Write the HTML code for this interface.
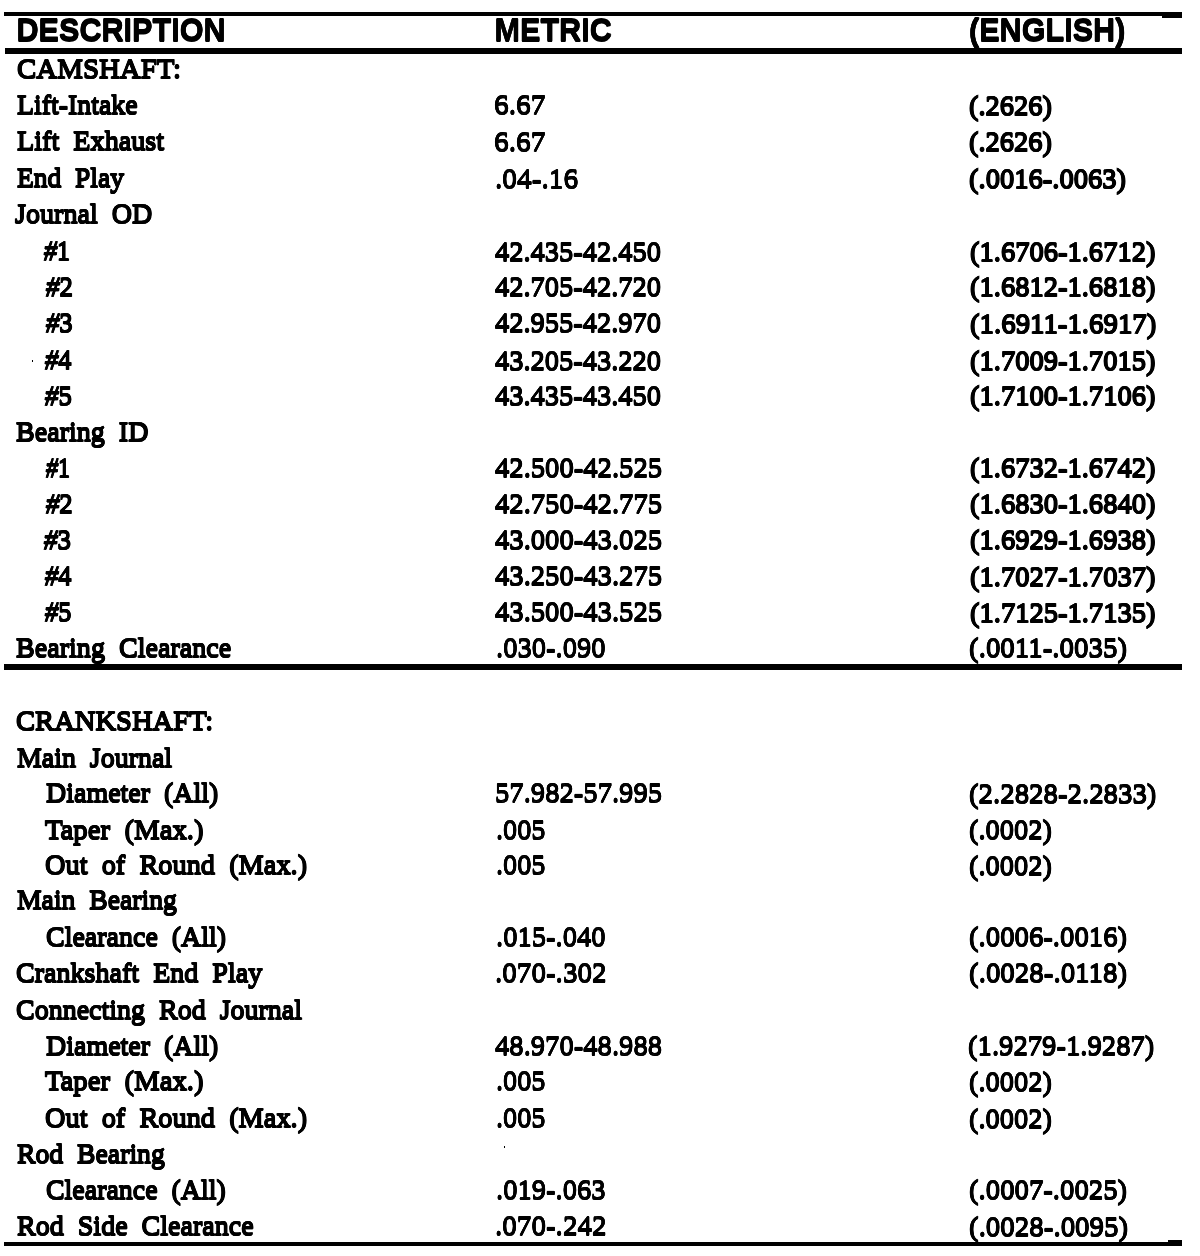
<!DOCTYPE html>
<html lang="en"><head><meta charset="utf-8"><title>Engine Specifications</title>
<style>
html,body{margin:0;padding:0;background:#fff;}
body{width:1200px;height:1256px;position:relative;overflow:hidden;color:#000;
 font-family:"Liberation Serif",serif;font-size:28.3px;line-height:36px;}
.r{position:absolute;left:0;width:1200px;height:36px;white-space:pre;word-spacing:7px;
 -webkit-text-stroke:1.4px #000;text-shadow:0 1.3px 0 #000,0 -1.3px 0 #000,0 0.65px 0 #000,0 -0.65px 0 #000;}
.r span{position:absolute;top:0;transform-origin:0 28.3px;}
.n{-webkit-text-stroke-width:1.1px;}
.e{-webkit-text-stroke-width:1.5px;}
.n.l{-webkit-text-stroke-width:0.7px;}
.e.l{-webkit-text-stroke-width:1.0px;}
.h{position:absolute;left:0;top:12.2px;width:1200px;height:36px;white-space:pre;
 font-family:"Liberation Sans",sans-serif;font-weight:bold;font-size:30.6px;-webkit-text-stroke:0.6px #000;text-shadow:0 1px 0 #000,0 -1px 0 #000;}
.h span{position:absolute;top:0;transform:scale(1,1.045);transform-origin:0 28px;}
.rule{position:absolute;background:#000;}
.sq{-webkit-text-stroke-width:1.4px;}
</style></head><body>
<div class="rule" style="left:4px;top:12px;width:1178px;height:4px"></div>
<div class="h"><span style="left:16.5px">DESCRIPTION</span><span style="left:494.5px">METRIC</span><span style="left:969px">(ENGLISH)</span></div>
<div class="rule" style="left:5px;top:48px;width:1177px;height:6px"></div>
<div class="r sq" style="top:50.70px"><span style="left:17.00px;transform:scale(1.0221,1)">CAMSHAFT:</span></div>
<div class="r" style="top:87.20px"><span style="left:17.00px;transform:scale(0.9836,1)">Lift-Intake</span><span class="n l" style="top:0.3px;left:493.96px;transform:scale(1.0417,1)">6.67</span><span class="e" style="top:0.7px;left:969.00px;transform:scale(1.0063,1)">(.2626)</span></div>
<div class="r" style="top:123.40px"><span style="left:17.00px;transform:scale(0.9966,1)">Lift Exhaust</span><span class="n l" style="top:0.3px;left:493.96px;transform:scale(1.0417,1)">6.67</span><span class="e" style="top:0.7px;left:969.00px;transform:scale(1.0063,1)">(.2626)</span></div>
<div class="r" style="top:160.30px"><span style="left:17.00px;transform:scale(0.9730,1)">End Play</span><span class="n l" style="top:0.3px;left:494.94px;transform:scale(1.0381,1)">.04-.16</span><span class="e" style="top:0.7px;left:969.00px;transform:scale(1.0097,1)">(.0016-.0063)</span></div>
<div class="r" style="top:196.40px"><span style="left:15.00px;transform:scale(0.9928,1)">Journal OD</span></div>
<div class="r" style="top:233.30px"><span style="left:44.11px;transform:scale(0.9159,1)"><i>#</i>1</span><span class="n" style="top:0.3px;left:495.00px;transform:scale(1.0061,1)">42.435-42.450</span><span class="e" style="top:0.7px;left:969.99px;transform:scale(1.0083,1)">(1.6706-1.6712)</span></div>
<div class="r" style="top:268.70px"><span style="left:45.94px;transform:scale(0.9474,1)"><i>#</i>2</span><span class="n" style="top:0.3px;left:495.00px;transform:scale(1.0061,1)">42.705-42.720</span><span class="e" style="top:0.7px;left:969.99px;transform:scale(1.0083,1)">(1.6812-1.6818)</span></div>
<div class="r" style="top:305.20px"><span style="left:45.96px;transform:scale(0.9403,1)"><i>#</i>3</span><span class="n" style="top:0.3px;left:495.00px;transform:scale(1.0061,1)">42.955-42.970</span><span class="e" style="top:0.7px;left:969.99px;transform:scale(1.0192,1)">(1.6911-1.6917)</span></div>
<div class="r" style="top:342.40px"><span style="left:45.18px;transform:scale(0.9281,1)"><i>#</i>4</span><span class="n" style="top:0.3px;left:495.00px;transform:scale(1.0061,1)">43.205-43.220</span><span class="e" style="top:0.7px;left:969.99px;transform:scale(1.0083,1)">(1.7009-1.7015)</span></div>
<div class="r" style="top:377.70px"><span style="left:45.16px;transform:scale(0.9450,1)"><i>#</i>5</span><span class="n" style="top:0.3px;left:495.00px;transform:scale(1.0061,1)">43.435-43.450</span><span class="e" style="top:0.7px;left:969.99px;transform:scale(1.0083,1)">(1.7100-1.7106)</span></div>
<div class="r" style="top:414.20px"><span style="left:16.00px;transform:scale(0.9925,1)">Bearing ID</span></div>
<div class="r" style="top:449.70px"><span style="left:45.86px;transform:scale(0.8417,1)"><i>#</i>1</span><span class="n" style="top:0.3px;left:495.00px;transform:scale(1.0122,1)">42.500-42.525</span><span class="e" style="top:0.7px;left:969.99px;transform:scale(1.0083,1)">(1.6732-1.6742)</span></div>
<div class="r" style="top:485.70px"><span style="left:45.96px;transform:scale(0.9430,1)"><i>#</i>2</span><span class="n" style="top:0.3px;left:495.00px;transform:scale(1.0122,1)">42.750-42.775</span><span class="e" style="top:0.7px;left:969.99px;transform:scale(1.0083,1)">(1.6830-1.6840)</span></div>
<div class="r" style="top:521.70px"><span style="left:43.88px;transform:scale(0.9507,1)"><i>#</i>3</span><span class="n" style="top:0.3px;left:495.00px;transform:scale(1.0122,1)">43.000-43.025</span><span class="e" style="top:0.7px;left:969.99px;transform:scale(1.0083,1)">(1.6929-1.6938)</span></div>
<div class="r" style="top:558.20px"><span style="left:44.93px;transform:scale(0.9303,1)"><i>#</i>4</span><span class="n" style="top:0.3px;left:495.00px;transform:scale(1.0122,1)">43.250-43.275</span><span class="e" style="top:0.7px;left:969.99px;transform:scale(1.0083,1)">(1.7027-1.7037)</span></div>
<div class="r" style="top:594.20px"><span style="left:44.93px;transform:scale(0.9281,1)"><i>#</i>5</span><span class="n" style="top:0.3px;left:495.00px;transform:scale(1.0122,1)">43.500-43.525</span><span class="e" style="top:0.7px;left:969.99px;transform:scale(1.0083,1)">(1.7125-1.7135)</span></div>
<div class="r" style="top:629.70px"><span style="left:16.00px;transform:scale(0.9931,1)">Bearing Clearance</span><span class="n l" style="top:0.3px;left:495.99px;transform:scale(1.0093,1)">.030-.090</span><span class="e l" style="top:0.7px;left:968.99px;transform:scale(1.0229,1)">(.0011-.0035)</span></div>
<div class="rule" style="left:4px;top:664px;width:1178px;height:6px"></div>
<div class="r" style="top:703.40px"><span style="left:16.00px;transform:scale(1.0103,1)">CRANKSHAFT:</span></div>
<div class="r" style="top:739.90px"><span style="left:17.01px;transform:scale(0.9873,1)">Main Journal</span></div>
<div class="r" style="top:775.20px"><span style="left:46.00px;transform:scale(0.9885,1)">Diameter (All)</span><span class="n l" style="top:0.3px;left:494.99px;transform:scale(1.0123,1)">57.982-57.995</span><span class="e l" style="top:0.7px;left:968.99px;transform:scale(1.0191,1)">(2.2828-2.2833)</span></div>
<div class="r" style="top:811.70px"><span style="left:45.00px;transform:scale(1.0180,1)">Taper (Max.)</span><span class="n l" style="top:0.3px;left:496.00px">.005</span><span class="e l" style="top:0.7px;left:968.99px;transform:scale(1.0062,1)">(.0002)</span></div>
<div class="r" style="top:846.90px"><span style="left:45.00px;transform:scale(1.0024,1)">Out of Round (Max.)</span><span class="n l" style="top:0.3px;left:496.00px">.005</span><span class="e l" style="top:0.7px;left:968.99px;transform:scale(1.0062,1)">(.0002)</span></div>
<div class="r" style="top:881.70px"><span style="left:17.01px;transform:scale(0.9786,1)">Main Bearing</span></div>
<div class="r" style="top:918.50px"><span style="left:46.00px;transform:scale(0.9890,1)">Clearance (All)</span><span class="n l" style="top:0.3px;left:495.99px;transform:scale(1.0093,1)">.015-.040</span><span class="e l" style="top:0.7px;left:968.99px;transform:scale(1.0163,1)">(.0006-.0016)</span></div>
<div class="r" style="top:954.70px"><span style="left:16.00px;transform:scale(0.9920,1)">Crankshaft End Play</span><span class="n l" style="top:0.3px;left:494.96px;transform:scale(1.0284,1)">.070-.302</span><span class="e l" style="top:0.7px;left:968.99px;transform:scale(1.0229,1)">(.0028-.0118)</span></div>
<div class="r" style="top:991.50px"><span style="left:16.00px;transform:scale(0.9896,1)">Connecting Rod Journal</span></div>
<div class="r" style="top:1027.60px"><span style="left:46.00px;transform:scale(0.9885,1)">Diameter (All)</span><span class="n l" style="top:0.3px;left:495.00px;transform:scale(1.0122,1)">48.970-48.988</span><span class="e l" style="top:0.7px;left:968.00px;transform:scale(1.0136,1)">(1.9279-1.9287)</span></div>
<div class="r" style="top:1063.20px"><span style="left:45.00px;transform:scale(1.0180,1)">Taper (Max.)</span><span class="n l" style="top:0.3px;left:496.00px">.005</span><span class="e l" style="top:0.7px;left:968.99px;transform:scale(1.0062,1)">(.0002)</span></div>
<div class="r" style="top:1100.20px"><span style="left:45.00px;transform:scale(1.0024,1)">Out of Round (Max.)</span><span class="n l" style="top:0.3px;left:496.00px">.005</span><span class="e l" style="top:0.7px;left:968.99px;transform:scale(1.0062,1)">(.0002)</span></div>
<div class="r" style="top:1135.70px"><span style="left:17.00px;transform:scale(0.9801,1)">Rod Bearing</span></div>
<div class="r" style="top:1171.80px"><span style="left:46.00px;transform:scale(0.9864,1)">Clearance (All)</span><span class="n l" style="top:0.3px;left:495.99px;transform:scale(1.0093,1)">.019-.063</span><span class="e l" style="top:0.7px;left:968.99px;transform:scale(1.0163,1)">(.0007-.0025)</span></div>
<div class="r" style="top:1208.00px"><span style="left:17.00px;transform:scale(0.9916,1)">Rod Side Clearance</span><span class="n l" style="top:0.3px;left:494.96px;transform:scale(1.0284,1)">.070-.242</span><span class="e l" style="top:0.7px;left:968.99px;transform:scale(1.0228,1)">(.0028-.0095)</span></div>
<div class="rule" style="left:4px;top:1242px;width:1178px;height:4px"></div>
<div class="rule" style="left:32px;top:360px;width:1px;height:2px"></div><div class="rule" style="left:504px;top:1146px;width:1px;height:2px"></div><div class="rule" style="left:1162px;top:16px;width:20px;height:2px"></div><div class="rule" style="left:1168px;top:1240px;width:14px;height:2px"></div>
</body></html>
